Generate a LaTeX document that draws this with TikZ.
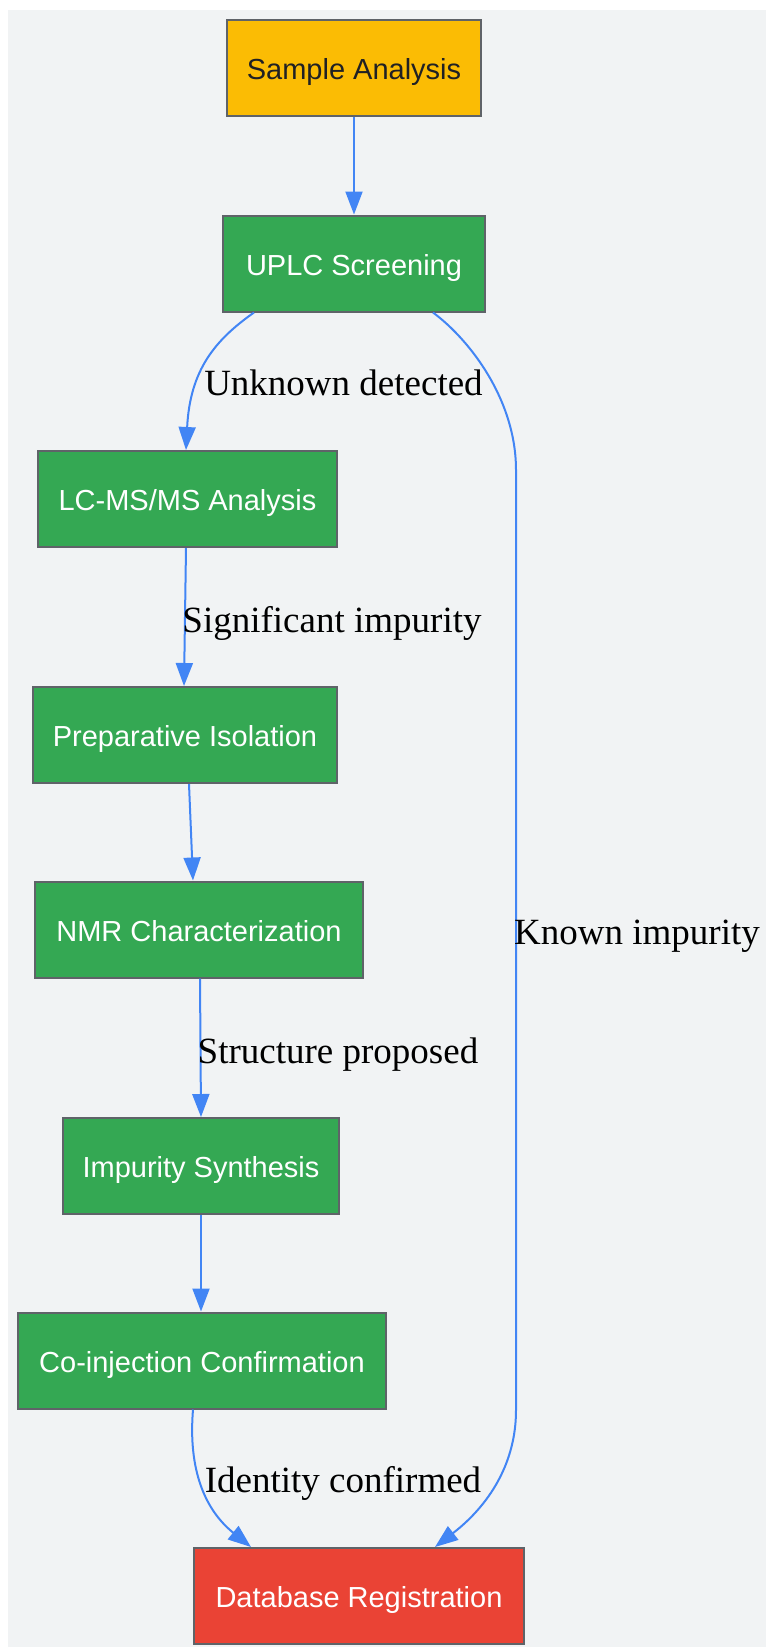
\documentclass[tikz,border=0pt]{standalone}
\usepackage{fontspec}
\setmainfont{Liberation Serif}
\newfontfamily\nodefont{Liberation Sans}
\usetikzlibrary{arrows.meta}
\definecolor{bgc}{HTML}{F1F3F4}
\definecolor{ylw}{HTML}{FBBC04}
\definecolor{grn}{HTML}{34A853}
\definecolor{rd}{HTML}{EA4335}
\definecolor{blu}{HTML}{4285F4}
\definecolor{brd}{HTML}{5F6368}
\definecolor{dk}{HTML}{202124}
\begin{document}
\begin{tikzpicture}[x=1pt,y=-1pt,
  stepbox/.style={draw=brd,line width=2pt,minimum height=96pt,inner sep=0pt,
    text height=23pt,text depth=0pt,
    font=\nodefont\fontsize{29}{34}\selectfont,text=white,fill=grn},
  conn/.style={draw=blu,line width=2pt,-{Triangle[length=23pt,width=17pt]}},
  lbl/.style={font=\fontsize{37}{42}\selectfont,text=black,inner sep=0pt,
    text height=25pt,text depth=0pt}]
\useasboundingbox (0,0) rectangle (766,1647);
\fill[bgc] (8,10) rectangle (766,1647);
\node[stepbox,fill=ylw,text=dk,minimum width=254pt] (sample) at (354,68) {Sample Analysis};
\node[stepbox,minimum width=262pt] (uplc) at (354,263.5) {UPLC Screening};
\node[stepbox,minimum width=299pt] (lcms) at (187.5,499) {LC-MS/MS Analysis};
\node[stepbox,minimum width=304pt] (prep) at (185,735) {Preparative Isolation};
\node[stepbox,minimum width=328pt] (nmr) at (199,929.5) {NMR Characterization};
\node[stepbox,minimum width=276pt] (synth) at (201,1166) {Impurity Synthesis};
\node[stepbox,minimum width=368pt] (coinj) at (202,1360.5) {Co-injection Confirmation};
\node[stepbox,fill=rd,minimum width=330pt] (db) at (359,1596) {Database Registration};
\draw[conn] (sample) -- (uplc);
\draw[conn] ([xshift=-100pt]uplc.south) .. controls (215,340) and (190,370) .. ([xshift=-1.5pt]lcms.north);
\draw[conn] ([xshift=79pt]uplc.south) .. controls (470,340) and (516,400) .. (516,470) -- (516,1410) .. controls (516,1480) and (470,1520) .. ([xshift=76pt]db.north);
\draw[conn] ([xshift=-1.5pt]lcms.south) -- ([xshift=-1pt]prep.north);
\draw[conn] ([xshift=4pt]prep.south) -- ([xshift=-6pt]nmr.north);
\draw[conn] ([xshift=1pt]nmr.south) -- (synth.north);
\draw[conn] (synth.south) -- ([xshift=-1pt]coinj.north);
\draw[conn] ([xshift=-9pt]coinj.south) .. controls (188,1470) and (205,1510) .. ([xshift=-108pt]db.north);
\node[lbl] (l1) at (343.5,383) {Unknown detected};
\node[lbl] (l2) at (332,620) {Significant impurity};
\node[lbl] (l3) at (637,932) {Known impurity};
\node[lbl] (l4) at (338,1051) {Structure proposed};
\node[lbl] (l5) at (343,1480) {Identity confirmed};
\end{tikzpicture}
\end{document}
